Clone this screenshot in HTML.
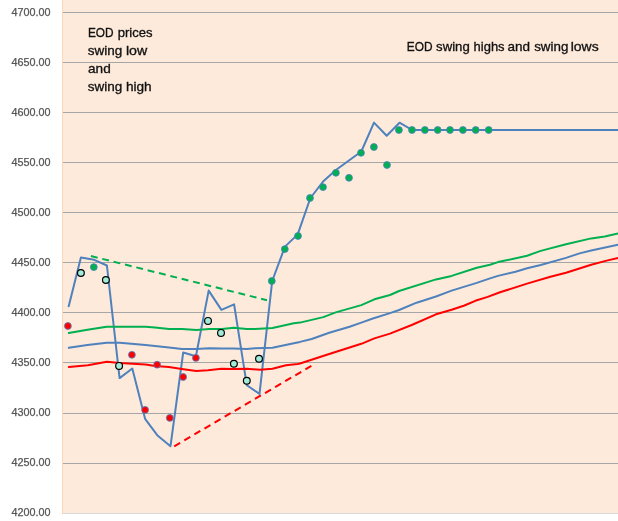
<!DOCTYPE html>
<html><head><meta charset="utf-8"><title>chart</title>
<style>html,body{margin:0;padding:0;background:#fff;}svg{display:block;will-change:transform;}text{font-family:"Liberation Sans",sans-serif;}</style></head><body>
<svg width="618" height="521" viewBox="0 0 618 521">
<rect x="0" y="0" width="618" height="521" fill="#FFFFFF"/>
<rect x="62" y="0" width="556" height="513.5" fill="#FDEADB"/>
<rect x="62" y="513" width="556" height="1" fill="#D9D9D9"/>
<rect x="63" y="12" width="555" height="1" fill="#A6A6A6"/>
<rect x="63" y="62" width="555" height="1" fill="#A6A6A6"/>
<rect x="63" y="112" width="555" height="1" fill="#A6A6A6"/>
<rect x="63" y="162" width="555" height="1" fill="#A6A6A6"/>
<rect x="63" y="212" width="555" height="1" fill="#A6A6A6"/>
<rect x="63" y="262" width="555" height="1" fill="#A6A6A6"/>
<rect x="63" y="312" width="555" height="1" fill="#A6A6A6"/>
<rect x="63" y="362" width="555" height="1" fill="#A6A6A6"/>
<rect x="63" y="413" width="555" height="1" fill="#A6A6A6"/>
<rect x="63" y="463" width="555" height="1" fill="#A6A6A6"/>
<rect x="62" y="0" width="1" height="513.5" fill="#FCD5B4"/>
<text x="50.6" y="15.8" font-size="10.25" fill="#555555" stroke="#555555" stroke-width="0.25" text-anchor="end" textLength="39" lengthAdjust="spacingAndGlyphs">4700.00</text>
<text x="50.6" y="65.8" font-size="10.25" fill="#555555" stroke="#555555" stroke-width="0.25" text-anchor="end" textLength="39" lengthAdjust="spacingAndGlyphs">4650.00</text>
<text x="50.6" y="115.8" font-size="10.25" fill="#555555" stroke="#555555" stroke-width="0.25" text-anchor="end" textLength="39" lengthAdjust="spacingAndGlyphs">4600.00</text>
<text x="50.6" y="165.8" font-size="10.25" fill="#555555" stroke="#555555" stroke-width="0.25" text-anchor="end" textLength="39" lengthAdjust="spacingAndGlyphs">4550.00</text>
<text x="50.6" y="215.8" font-size="10.25" fill="#555555" stroke="#555555" stroke-width="0.25" text-anchor="end" textLength="39" lengthAdjust="spacingAndGlyphs">4500.00</text>
<text x="50.6" y="265.8" font-size="10.25" fill="#555555" stroke="#555555" stroke-width="0.25" text-anchor="end" textLength="39" lengthAdjust="spacingAndGlyphs">4450.00</text>
<text x="50.6" y="315.8" font-size="10.25" fill="#555555" stroke="#555555" stroke-width="0.25" text-anchor="end" textLength="39" lengthAdjust="spacingAndGlyphs">4400.00</text>
<text x="50.6" y="365.8" font-size="10.25" fill="#555555" stroke="#555555" stroke-width="0.25" text-anchor="end" textLength="39" lengthAdjust="spacingAndGlyphs">4350.00</text>
<text x="50.6" y="415.8" font-size="10.25" fill="#555555" stroke="#555555" stroke-width="0.25" text-anchor="end" textLength="39" lengthAdjust="spacingAndGlyphs">4300.00</text>
<text x="50.6" y="465.8" font-size="10.25" fill="#555555" stroke="#555555" stroke-width="0.25" text-anchor="end" textLength="39" lengthAdjust="spacingAndGlyphs">4250.00</text>
<text x="50.6" y="515.8" font-size="10.25" fill="#555555" stroke="#555555" stroke-width="0.25" text-anchor="end" textLength="39" lengthAdjust="spacingAndGlyphs">4200.00</text>
<polyline points="68.7,306.3 80.9,257.5 94.2,259.8 106.9,265.5 119.6,378.1 132.3,368.5 145.1,418.8 157.8,435.8 170.5,446.2 183.2,352.5 195.9,356.2 208.7,290.6 221.4,309.9 234.1,304.4 246.8,385.2 259.5,393.9 272.2,281.0 285.0,246.6 297.7,234.4 310.4,198.0 323.1,181.5 335.9,170.0 348.6,160.8 361.3,151.5 374.0,122.6 386.7,135.7 399.5,122.7 412.2,130.0 622.0,130.0" fill="none" stroke="#4F81BD" stroke-width="2" stroke-linejoin="round" stroke-linecap="round"/>
<polyline points="68.8,332.9 87.4,329.7 106.8,326.8 145.6,326.8 155.0,327.5 169.2,329.0 182.1,329.0 196.4,329.9 209.3,329.0 222.0,329.0 233.7,327.8 246.8,329.0 255.0,329.0 272.5,327.9 293.8,323.2 300.0,322.6 323.3,317.1 335.7,312.4 361.3,305.1 374.4,299.3 390.0,295.0 399.1,291.0 436.0,279.4 451.6,275.9 476.8,267.7 490.0,264.8 498.0,262.1 527.1,255.7 540.7,250.9 566.0,244.3 591.2,238.4 604.8,236.5 618.0,233.4 622.0,232.6" fill="none" stroke="#00B050" stroke-width="2" stroke-linejoin="round" stroke-linecap="round"/>
<polyline points="68.8,347.8 87.4,345.1 106.8,342.7 119.7,342.7 145.6,345.1 155.0,345.9 169.0,347.4 182.1,349.0 196.4,349.0 209.3,348.2 222.0,348.4 233.2,348.6 246.8,349.0 255.0,348.3 272.5,347.7 293.8,343.2 300.0,341.9 311.7,339.0 329.2,332.8 349.6,326.7 361.3,322.6 372.9,318.5 390.0,313.1 399.1,310.0 416.6,302.7 436.0,296.5 451.6,290.6 476.8,282.9 490.0,278.4 498.0,275.9 515.5,271.8 527.1,268.3 540.7,265.0 566.0,257.9 579.6,253.4 591.2,250.5 618.0,244.7 622.0,244.0" fill="none" stroke="#4F81BD" stroke-width="2" stroke-linejoin="round" stroke-linecap="round"/>
<polyline points="68.8,366.9 87.9,365.2 106.8,361.7 119.7,362.9 145.6,364.5 155.0,366.1 169.0,367.0 181.7,368.9 196.3,371.1 208.0,370.3 221.5,368.8 233.2,369.1 246.8,368.8 260.0,369.7 272.5,368.7 286.0,365.3 297.7,363.9 300.0,363.5 329.2,354.0 361.3,343.8 374.4,338.4 390.0,333.6 411.7,325.0 436.0,314.3 451.6,309.8 464.4,305.5 475.3,300.8 487.7,296.9 500.0,292.3 527.1,283.6 550.4,276.7 566.0,272.8 591.2,264.7 606.7,260.6 618.0,257.9 622.0,257.0" fill="none" stroke="#FF0000" stroke-width="2" stroke-linejoin="round" stroke-linecap="round"/>
<line x1="90.9" y1="256" x2="267" y2="300.2" stroke="#00B050" stroke-width="2" stroke-dasharray="6.9 4.8"/>
<line x1="174.2" y1="446.3" x2="314.2" y2="364.2" stroke="#FF0000" stroke-width="2" stroke-dasharray="6.9 4.8"/>
<circle cx="67.9" cy="326" r="3.42" fill="#FF0000" stroke="#4F81BD" stroke-width="0.85"/>
<circle cx="131.9" cy="354.8" r="3.42" fill="#FF0000" stroke="#4F81BD" stroke-width="0.85"/>
<circle cx="145.1" cy="409.9" r="3.42" fill="#FF0000" stroke="#4F81BD" stroke-width="0.85"/>
<circle cx="157.1" cy="364.7" r="3.42" fill="#FF0000" stroke="#4F81BD" stroke-width="0.85"/>
<circle cx="169.8" cy="417.9" r="3.42" fill="#FF0000" stroke="#4F81BD" stroke-width="0.85"/>
<circle cx="183.1" cy="377" r="3.42" fill="#FF0000" stroke="#4F81BD" stroke-width="0.85"/>
<circle cx="195.9" cy="357.9" r="3.42" fill="#FF0000" stroke="#4F81BD" stroke-width="0.85"/>
<circle cx="80.9" cy="273" r="3.4" fill="#A3EBD9" stroke="#000000" stroke-width="1.2"/>
<circle cx="105.9" cy="280" r="3.4" fill="#A3EBD9" stroke="#000000" stroke-width="1.2"/>
<circle cx="119.1" cy="365.9" r="3.4" fill="#A3EBD9" stroke="#000000" stroke-width="1.2"/>
<circle cx="208" cy="320.9" r="3.4" fill="#A3EBD9" stroke="#000000" stroke-width="1.2"/>
<circle cx="221" cy="332.9" r="3.4" fill="#A3EBD9" stroke="#000000" stroke-width="1.2"/>
<circle cx="233.9" cy="363.8" r="3.4" fill="#A3EBD9" stroke="#000000" stroke-width="1.2"/>
<circle cx="246.8" cy="380.8" r="3.4" fill="#A3EBD9" stroke="#000000" stroke-width="1.2"/>
<circle cx="259" cy="358.8" r="3.4" fill="#A3EBD9" stroke="#000000" stroke-width="1.2"/>
<circle cx="93.8" cy="267.1" r="3.42" fill="#00B050" stroke="#4F81BD" stroke-width="0.85"/>
<circle cx="271.8" cy="281" r="3.42" fill="#00B050" stroke="#4F81BD" stroke-width="0.85"/>
<circle cx="284.8" cy="249.1" r="3.42" fill="#00B050" stroke="#4F81BD" stroke-width="0.85"/>
<circle cx="298" cy="236" r="3.42" fill="#00B050" stroke="#4F81BD" stroke-width="0.85"/>
<circle cx="310" cy="198" r="3.42" fill="#00B050" stroke="#4F81BD" stroke-width="0.85"/>
<circle cx="323" cy="187.1" r="3.42" fill="#00B050" stroke="#4F81BD" stroke-width="0.85"/>
<circle cx="335.9" cy="172.8" r="3.42" fill="#00B050" stroke="#4F81BD" stroke-width="0.85"/>
<circle cx="349" cy="177.8" r="3.42" fill="#00B050" stroke="#4F81BD" stroke-width="0.85"/>
<circle cx="361" cy="152.8" r="3.42" fill="#00B050" stroke="#4F81BD" stroke-width="0.85"/>
<circle cx="373.9" cy="147" r="3.42" fill="#00B050" stroke="#4F81BD" stroke-width="0.85"/>
<circle cx="387" cy="165" r="3.42" fill="#00B050" stroke="#4F81BD" stroke-width="0.85"/>
<circle cx="398.9" cy="130" r="3.42" fill="#00B050" stroke="#4F81BD" stroke-width="0.85"/>
<circle cx="412" cy="130" r="3.42" fill="#00B050" stroke="#4F81BD" stroke-width="0.85"/>
<circle cx="424.9" cy="130" r="3.42" fill="#00B050" stroke="#4F81BD" stroke-width="0.85"/>
<circle cx="437.7" cy="130" r="3.42" fill="#00B050" stroke="#4F81BD" stroke-width="0.85"/>
<circle cx="450" cy="130" r="3.42" fill="#00B050" stroke="#4F81BD" stroke-width="0.85"/>
<circle cx="462.9" cy="130" r="3.42" fill="#00B050" stroke="#4F81BD" stroke-width="0.85"/>
<circle cx="475.7" cy="130" r="3.42" fill="#00B050" stroke="#4F81BD" stroke-width="0.85"/>
<circle cx="488.7" cy="130" r="3.42" fill="#00B050" stroke="#4F81BD" stroke-width="0.85"/>
<text x="87.92" y="36.6" font-size="12.1" fill="#111111" stroke="#111111" stroke-width="0.3" textLength="25.64" lengthAdjust="spacingAndGlyphs">EOD</text>
<text x="117.74" y="36.6" font-size="12.1" fill="#111111" stroke="#111111" stroke-width="0.3" textLength="34.82" lengthAdjust="spacingAndGlyphs">prices</text>
<text x="87.85" y="54.6" font-size="12.1" fill="#111111" stroke="#111111" stroke-width="0.3" textLength="34.49" lengthAdjust="spacingAndGlyphs">swing</text>
<text x="125.94" y="54.6" font-size="12.1" fill="#111111" stroke="#111111" stroke-width="0.3" textLength="21.31" lengthAdjust="spacingAndGlyphs">low</text>
<text x="88.05" y="72.5" font-size="12.1" fill="#111111" stroke="#111111" stroke-width="0.3" textLength="22.7" lengthAdjust="spacingAndGlyphs">and</text>
<text x="87.85" y="90.7" font-size="12.1" fill="#111111" stroke="#111111" stroke-width="0.3" textLength="34.49" lengthAdjust="spacingAndGlyphs">swing</text>
<text x="125.95" y="90.7" font-size="12.1" fill="#111111" stroke="#111111" stroke-width="0.3" textLength="25.78" lengthAdjust="spacingAndGlyphs">high</text>
<text x="406.8" y="50.5" font-size="12.1" fill="#111111" stroke="#111111" stroke-width="0.3" textLength="25.75" lengthAdjust="spacingAndGlyphs">EOD</text>
<text x="436.1" y="50.5" font-size="12.1" fill="#111111" stroke="#111111" stroke-width="0.3" textLength="33.64" lengthAdjust="spacingAndGlyphs">swing</text>
<text x="473.59" y="50.5" font-size="12.1" fill="#111111" stroke="#111111" stroke-width="0.3" textLength="31.01" lengthAdjust="spacingAndGlyphs">highs</text>
<text x="507.55" y="50.5" font-size="12.1" fill="#111111" stroke="#111111" stroke-width="0.3" textLength="22.57" lengthAdjust="spacingAndGlyphs">and</text>
<text x="534.16" y="50.5" font-size="12.1" fill="#111111" stroke="#111111" stroke-width="0.3" textLength="34.17" lengthAdjust="spacingAndGlyphs">swing</text>
<text x="570.73" y="50.5" font-size="12.1" fill="#111111" stroke="#111111" stroke-width="0.3" textLength="27.93" lengthAdjust="spacingAndGlyphs">lows</text>
</svg></body></html>
